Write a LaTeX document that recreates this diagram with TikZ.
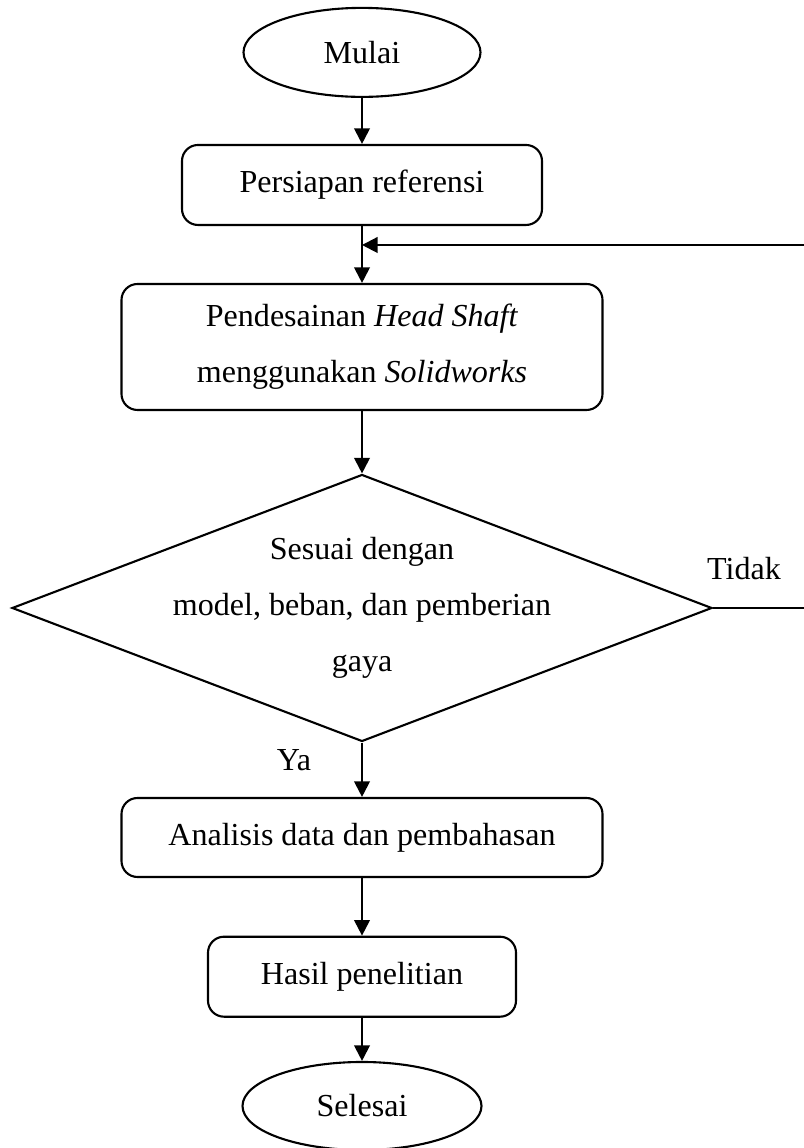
\documentclass[tikz,border=0pt]{standalone}
\usepackage{fontspec}
\setmainfont{Liberation Serif}
\usepackage{tikz}
\usetikzlibrary{shapes.geometric,arrows.meta}

\begin{document}
\begin{tikzpicture}[font=\fontsize{22.8}{39.8}\selectfont,
  line width=1.5pt,
  terminal/.style={draw,ellipse,inner sep=0pt},
  proses/.style={draw,rectangle,rounded corners=0.4cm,inner sep=0pt,align=center},
  keputusan/.style={draw,diamond,inner sep=0pt,minimum width=17.5cm,minimum height=6.675cm},
  panah/.style={-{Triangle[length=0.39cm,width=0.39cm]}}]
\useasboundingbox (0,0) rectangle (20.1,28.7);
\node[terminal,minimum width=5.925cm,minimum height=2.225cm] (mulai) at (9.05,27.39) {Mulai};
\node[proses,minimum width=9cm,minimum height=2cm] (persiapan) at (9.05,24.075) {Persiapan referensi};
\node[proses,minimum width=12.025cm,minimum height=3.15cm] (desain) at (9.05,20.025)
  {Pendesainan \textit{Head Shaft}\\menggunakan \textit{Solidworks}};
\node[keputusan] (cek) at (9.05,13.5) {};
\node[align=center] (cekteks) at (cek) {Sesuai dengan\\model, beban, dan pemberian\\gaya};
\node[proses,minimum width=12.025cm,minimum height=1.975cm] (analisis) at (9.05,7.7625) {Analisis data dan pembahasan};
\node[proses,minimum width=7.7cm,minimum height=2cm] (hasil) at (9.05,4.2825) {Hasil penelitian};
\node[terminal,minimum width=5.975cm,minimum height=2.2cm] (selesai) at (9.05,1.05) {Selesai};
% alur utama
\draw[panah] (mulai) -- (persiapan);
\draw[panah] (persiapan) -- (desain);
\draw[panah] (desain) -- (cek);
\draw[panah] (cek) -- (analisis);
\draw[panah] (analisis) -- (hasil);
\draw[panah] (hasil) -- (selesai);
% kembali jika tidak sesuai
\coordinate (balik) at (20.5,22.575);
\coordinate (gabung) at (9.05,22.575);
\draw[panah] (cek.east) -| (balik) -- (gabung);
\node[anchor=base] (tidak) at (18.6,14.2) {Tidak};
\node[anchor=base] (ya) at (7.35,9.43) {Ya};
\end{tikzpicture}
\end{document}
